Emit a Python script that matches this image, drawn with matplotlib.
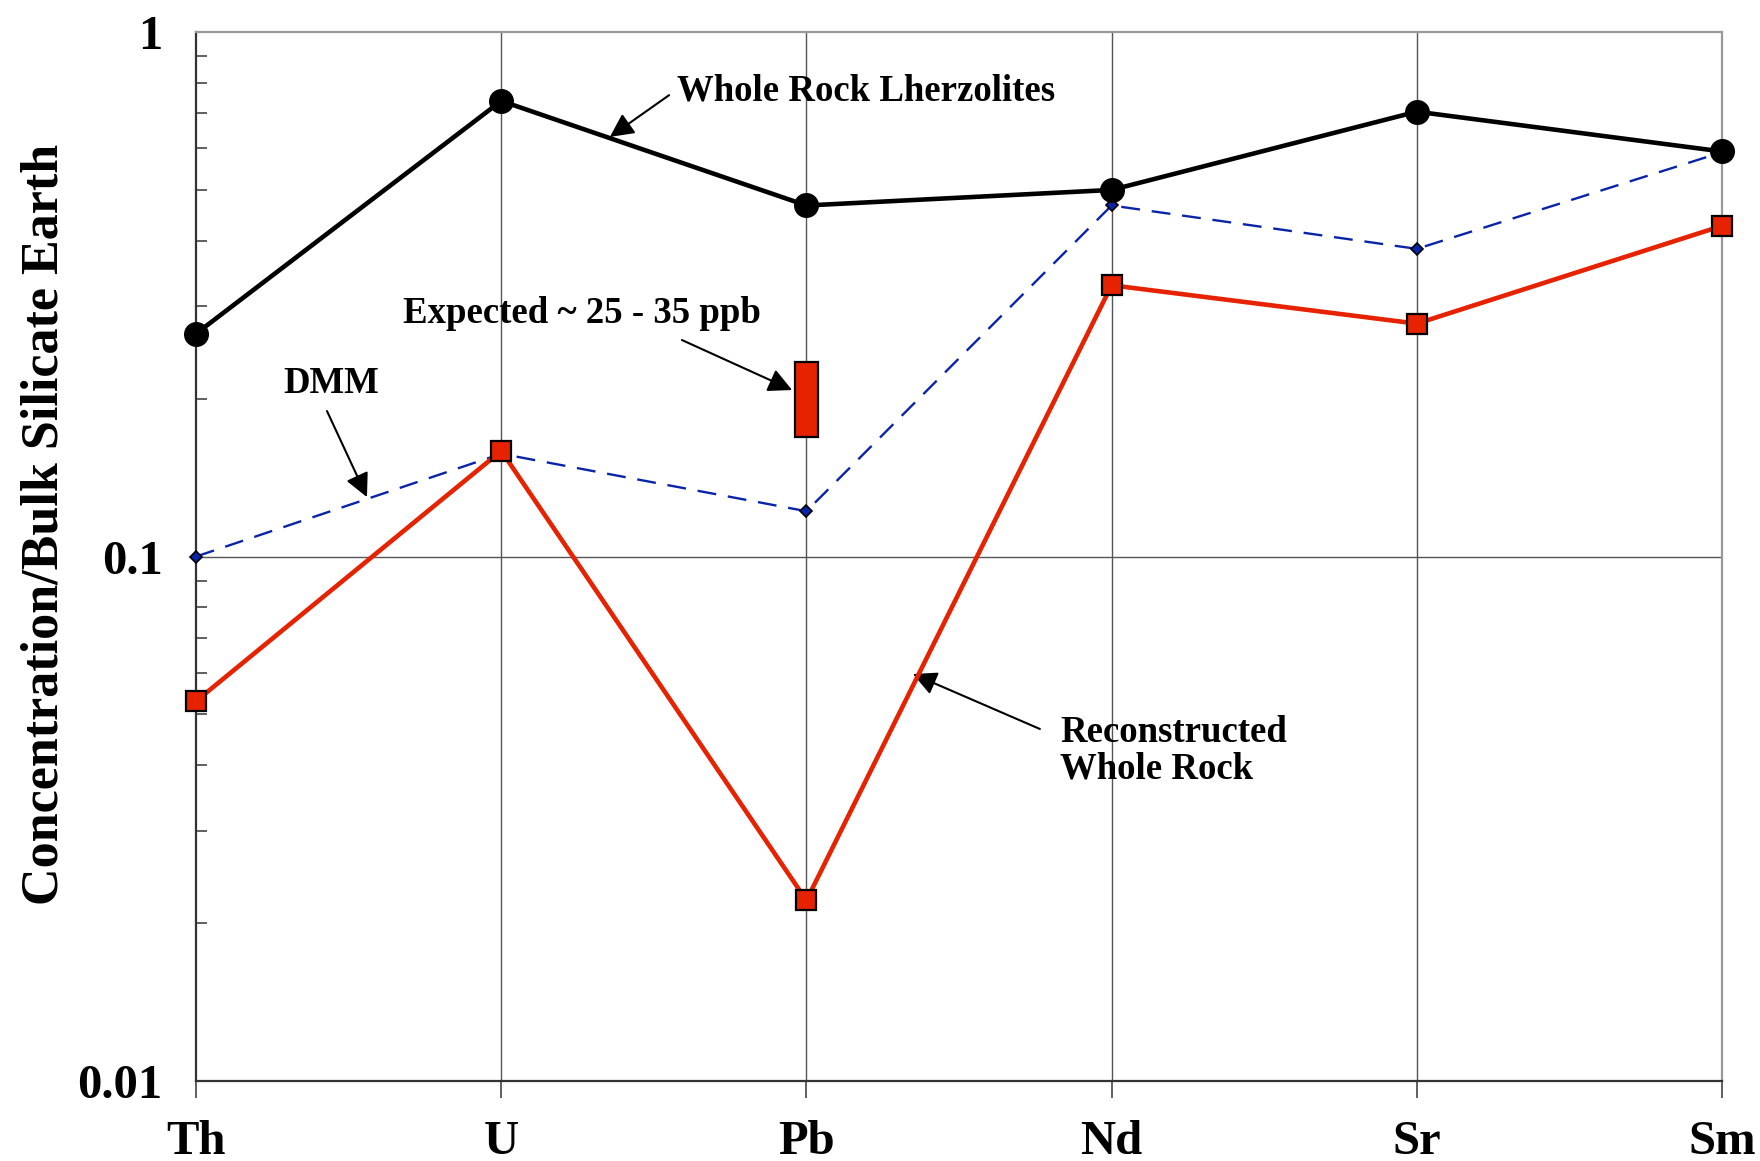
import matplotlib.pyplot as plt
from matplotlib.ticker import LogLocator, NullFormatter, FixedLocator

# Data
elements = ['Th', 'U', 'Pb', 'Nd', 'Sr', 'Sm']
whole_rock = [0.266, 0.739, 0.467, 0.500, 0.705, 0.592]
dmm = [0.100, 0.157, 0.122, 0.467, 0.386, 0.590]
reconstructed = [0.053, 0.159, 0.0221, 0.329, 0.278, 0.427]
expected_pb = [0.169, 0.235]   # low / high of expected Pb range

plt.rcParams['font.family'] = ['Liberation Serif', 'DejaVu Serif']
plt.rcParams['font.weight'] = 'bold'

fig = plt.figure(figsize=(17.6, 11.61), dpi=100)
ax = fig.add_axes([0.1114, 0.0689, 0.867, 0.9035])

x = list(range(len(elements)))

# Grid: vertical at each element, horizontal at 0.1
for xi in x[1:-1]:
    ax.axvline(xi, color='#555555', lw=1.0, zorder=0)
ax.axhline(0.1, color='#555555', lw=1.0, zorder=0)

ax.plot(x, dmm, color='#0A24A8', lw=1.7, ls=(0, (8, 5)), marker='D', ms=6.5,
        mfc='#0A24A8', mec='black', mew=1.2, clip_on=False, zorder=3)
ax.plot(x, reconstructed, color='#E62200', lw=3.3, marker='s', ms=15,
        mfc='#E62200', mec='black', mew=1.6, clip_on=False, zorder=4)
ax.plot(x, whole_rock, color='black', lw=3.3, marker='o', ms=17,
        clip_on=False, zorder=5)

# expected Pb range bar
ax.bar(x[2], expected_pb[1] - expected_pb[0], bottom=expected_pb[0], width=0.078,
       color='#E62200', edgecolor='black', lw=1.6, zorder=3)

ax.set_yscale('log')
ax.set_ylim(0.01, 1)
ax.set_xlim(0, len(elements) - 1)
ax.set_xticks(x)
ax.set_xticklabels(elements)
ax.yaxis.set_major_locator(FixedLocator([0.01, 0.1, 1]))
ax.set_yticklabels(['0.01', '0.1', '1'])
ax.yaxis.set_minor_locator(LogLocator(base=10, subs=range(2, 10)))
ax.yaxis.set_minor_formatter(NullFormatter())

ax.tick_params(axis='x', direction='out', length=12, width=1.2, color='#444444',
               labelsize=35, pad=16)
ax.tick_params(axis='y', which='major', direction='in', length=0, labelsize=35, pad=24)
ax.tick_params(axis='y', which='minor', direction='in', length=8, width=1.2, color='#444444')

for side in ['left', 'bottom']:
    ax.spines[side].set_color('#333333')
    ax.spines[side].set_linewidth(1.6)
for side in ['top', 'right']:
    ax.spines[side].set_color('#999999')
    ax.spines[side].set_linewidth(1.6)

ax.set_ylabel('Concentration/Bulk Silicate Earth', fontsize=37.5, fontweight='bold')
ax.yaxis.label.set_va('center')
ax.yaxis.set_label_coords(-0.0995, 0.531)

# Annotations
arrow = dict(arrowstyle='-|>', color='black', lw=1.5, mutation_scale=36, shrinkA=0, shrinkB=0)
fs = 26.5

ax.text(1.576, 0.742, 'Whole Rock Lherzolites', fontsize=fs, fontweight='bold', va='baseline', ha='left')
ax.annotate('', xy=(1.356, 0.631), xytext=(1.550, 0.758), arrowprops=arrow)

ax.text(0.678, 0.2787, 'Expected ~ 25 - 35 ppb', fontsize=fs, fontweight='bold', va='baseline', ha='left')
ax.annotate('', xy=(1.953, 0.2077), xytext=(1.592, 0.2587), arrowprops=arrow)

ax.text(0.285, 0.2049, 'DMM', fontsize=fs, fontweight='bold', va='baseline', ha='left')
ax.annotate('', xy=(0.560, 0.1298), xytext=(0.429, 0.1894), arrowprops=arrow)

ax.text(2.831, 0.04428, 'Reconstructed', fontsize=fs, fontweight='bold', va='baseline', ha='left')
ax.text(2.831, 0.03781, 'Whole Rock', fontsize=fs, fontweight='bold', va='baseline', ha='left')
ax.annotate('', xy=(2.349, 0.0597), xytext=(2.765, 0.0469), arrowprops=arrow)

fig.savefig('out.png', dpi=100)
